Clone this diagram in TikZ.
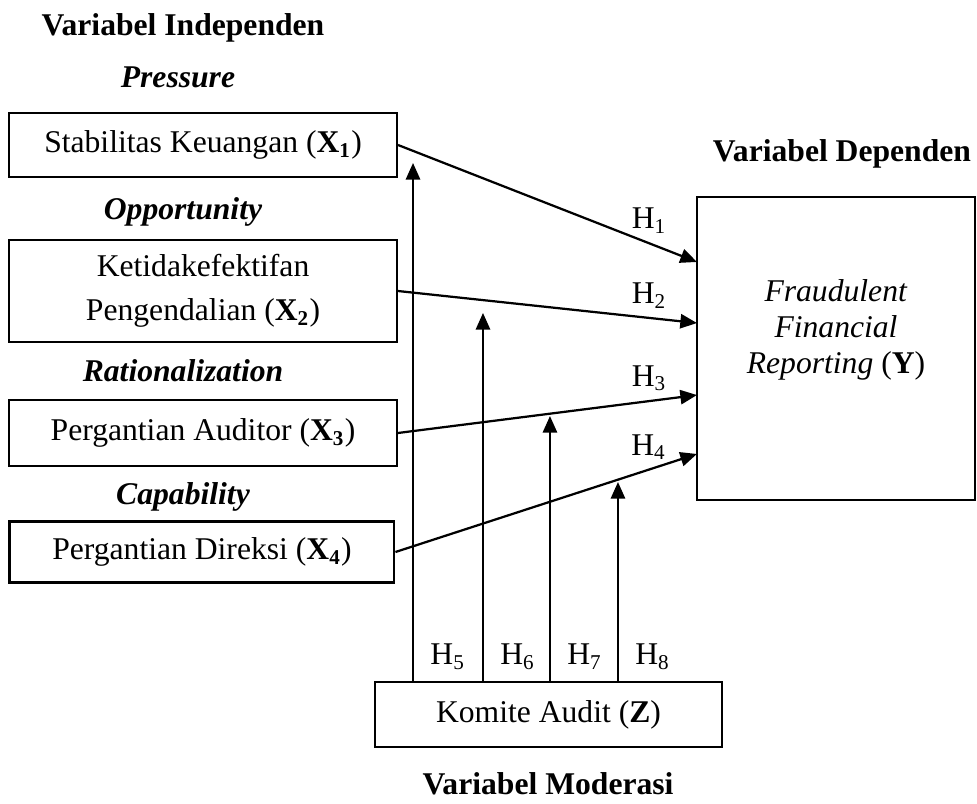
\documentclass[tikz,border=0pt]{standalone}
\usepackage{fontspec}
\setmainfont{Liberation Serif}
\usetikzlibrary{arrows.meta}
\begin{document}
\begin{tikzpicture}[>={Triangle[length=6.3pt,width=5.4pt]},line width=.85pt,
    font=\fontsize{12}{13.8}\selectfont,
    box/.style={draw,rectangle,minimum width=5.17cm,align=center,inner sep=0pt},
    head/.style={font=\fontsize{12}{13.8}\selectfont\bfseries,anchor=base},
    aspek/.style={font=\fontsize{12}{13.8}\selectfont\bfseries\itshape,anchor=base}]
\useasboundingbox (0,0) rectangle (13.027,-10.707);
\node[head] (indep) at (2.44,-.467) {Variabel Independen};
\node[head] (dep) at (11.227,-2.147) {Variabel Dependen};
\node[head] (mod) at (7.307,-10.587) {Variabel Moderasi};
\node[aspek] (pres) at (2.373,-1.16) {Pressure};
\node[aspek] (opp) at (2.44,-2.933) {Opportunity};
\node[aspek] (rat) at (2.44,-5.08) {Rationalization};
\node[aspek] (cap) at (2.44,-6.733) {Capability};
\node[box,minimum height=.853cm] (x1) at (2.707,-1.933) {Stabilitas Keuangan (\textbf{X\textsubscript{1}})};
\node[box,minimum height=1.36cm] (x2) at (2.707,-3.88) {Ketidakefektifan\\[3pt]Pengendalian (\textbf{X\textsubscript{2}})};
\node[box,minimum height=.88cm] (x3) at (2.707,-5.773) {Pergantian Auditor (\textbf{X\textsubscript{3}})};
\node[box,minimum width=5.13cm,minimum height=.813cm] (x4) at (2.693,-7.36) {Pergantian Direksi (\textbf{X\textsubscript{4}})};
\node[box,minimum width=3.707cm,minimum height=4.04cm] (ffr) at (11.147,-4.647) {};
\node[align=center] (ffrtxt) at (11.147,-4.4) {\textit{Fraudulent}\\\textit{Financial}\\\textit{Reporting} (\textbf{Y})};
\node[box,minimum width=4.627cm,minimum height=.867cm] (ka) at (7.313,-9.527) {Komite Audit (\textbf{Z})};
\foreach \i/\y in {1/-3.493,2/-4.307,3/-5.267,4/-6.053}
{
    \coordinate (t\i) at (9.293,\y);
    \draw[->](x\i.east)--(t\i)node[pos=.84,above](h\i){H\textsubscript{\i}};
}
\foreach \i/\x/\y in {5/5.507/-2.173,6/6.44/-4.173,7/7.333/-5.547,8/8.24/-6.427}
{
    \coordinate (m\i) at (\x,\y);
    \draw[->](m\i |- ka.north)--(m\i);
    \node[anchor=west] (h\i) at (\x+.1,-8.76) {H\textsubscript{\i}};
}
\end{tikzpicture}
\end{document}
